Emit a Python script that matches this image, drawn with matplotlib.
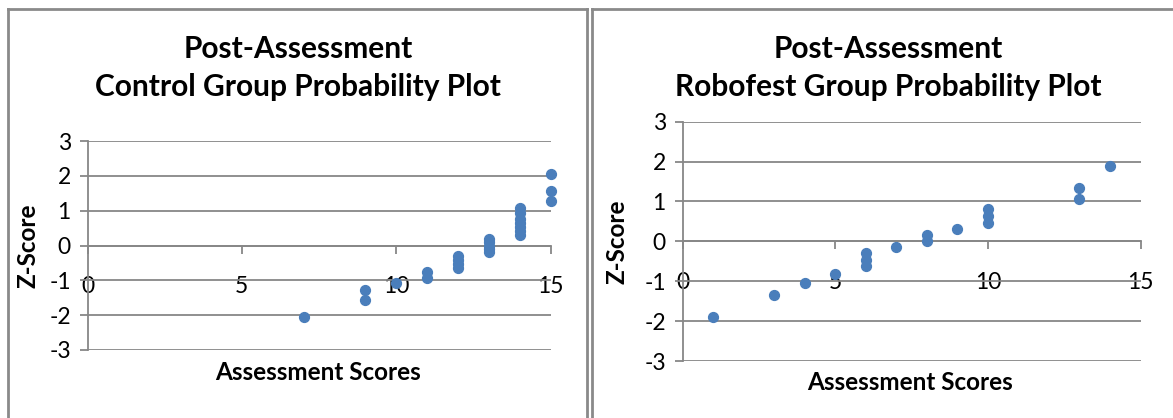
import matplotlib
matplotlib.use('Agg')
import matplotlib.pyplot as plt
from matplotlib.lines import Line2D

# scores and z-scores
control_scores = [7, 9, 9, 10, 11, 11, 12, 12, 12, 12, 13, 13, 13, 13, 13,
                  14, 14, 14, 14, 14, 14, 14, 15, 15, 15]
control_z = [-2.05, -1.56, -1.28, -1.08, -0.92, -0.77, -0.64, -0.52, -0.41, -0.31,
             -0.20, -0.10, 0.0, 0.10, 0.20, 0.31, 0.41, 0.52, 0.64, 0.77, 0.92,
             1.08, 1.28, 1.56, 2.05]

robofest_scores = [1, 3, 4, 5, 6, 6, 6, 7, 8, 8, 9, 10, 10, 10, 13, 13, 14]
robofest_z = [-1.89, -1.35, -1.05, -0.82, -0.63, -0.46, -0.30, -0.15, 0.0, 0.15,
              0.30, 0.46, 0.63, 0.82, 1.05, 1.35, 1.89]

x_ticks = [0, 5, 10, 15]
y_ticks = [-3, -2, -1, 0, 1, 2, 3]

W, H = 1173, 418
grey = '#878787'
blue = '#4a7ebb'
font = 'Lato'

plt.rcParams['axes.unicode_minus'] = False

fig = plt.figure(figsize=(W / 100, H / 100), dpi=100)

def fx(px):
    return px / W

def fy(py):
    return 1 - py / H

def panel(x0, x15, y3, ym3, scores, z, title, title_cx, ylab_x, xlab_y):
    ax = fig.add_axes([fx(x0), fy(ym3), fx(x15) - fx(x0), fy(y3) - fy(ym3)])
    ax.scatter(scores, z, s=50, color=blue, zorder=3, clip_on=False)
    ax.set_xlim(0, 15)
    ax.set_ylim(-3, 3)
    ax.set_xticks(x_ticks)
    ax.set_yticks(y_ticks)
    ax.grid(axis='y', color=grey, linewidth=1.3, zorder=1)
    ax.set_axisbelow(True)
    for s in ['top', 'right']:
        ax.spines[s].set_visible(False)
    ax.spines['bottom'].set_position(('data', 0))
    for s in ['left', 'bottom']:
        ax.spines[s].set_color(grey)
        ax.spines[s].set_linewidth(1.3)
    ax.tick_params(axis='both', direction='out', length=6, width=1.3, color=grey,
                   labelsize=16.5)
    ax.tick_params(axis='x', pad=16)
    ax.tick_params(axis='y', pad=6)
    for lab in ax.get_xticklabels() + ax.get_yticklabels():
        lab.set_family(font)
    ax.patch.set_alpha(0)
    fig.text(fx(title_cx), fy(68), title, ha='center', va='center',
             fontsize=21.5, fontweight='bold', family=font, linespacing=1.45)
    fig.text(fx(ylab_x), fy((y3 + ym3) / 2), 'Z-Score', rotation=90, ha='center',
             va='center', fontsize=17.5, fontweight='bold', family=font)
    fig.text(fx((x0 + x15) / 2 - 1), fy(xlab_y), 'Assessment Scores', ha='center',
             va='center', fontsize=17.5, fontweight='bold', family=font)
    return ax

panel(87.5, 550.7, 141, 350, control_scores, control_z,
      'Post-Assessment\nControl Group Probability Plot', 298, 28, 372)
panel(682.5, 1140.5, 121.7, 361, robofest_scores, robofest_z,
      'Post-Assessment\nRobofest Group Probability Plot', 888, 617, 382)

# chart borders
bc = '#8a8a8a'
fig.add_artist(Line2D([fx(8), fx(8)], [fy(8.5), 0], color=bc, lw=2))
fig.add_artist(Line2D([fx(8), fx(587)], [fy(8.5), fy(8.5)], color=bc, lw=2))
fig.add_artist(Line2D([fx(587), fx(587)], [fy(8.5), 0], color=bc, lw=2))
fig.add_artist(Line2D([fx(592), fx(592)], [fy(8.5), 0], color=bc, lw=2))
fig.add_artist(Line2D([fx(592), 1], [fy(8.5), fy(8.5)], color=bc, lw=2))

fig.savefig('out.png', dpi=100)
